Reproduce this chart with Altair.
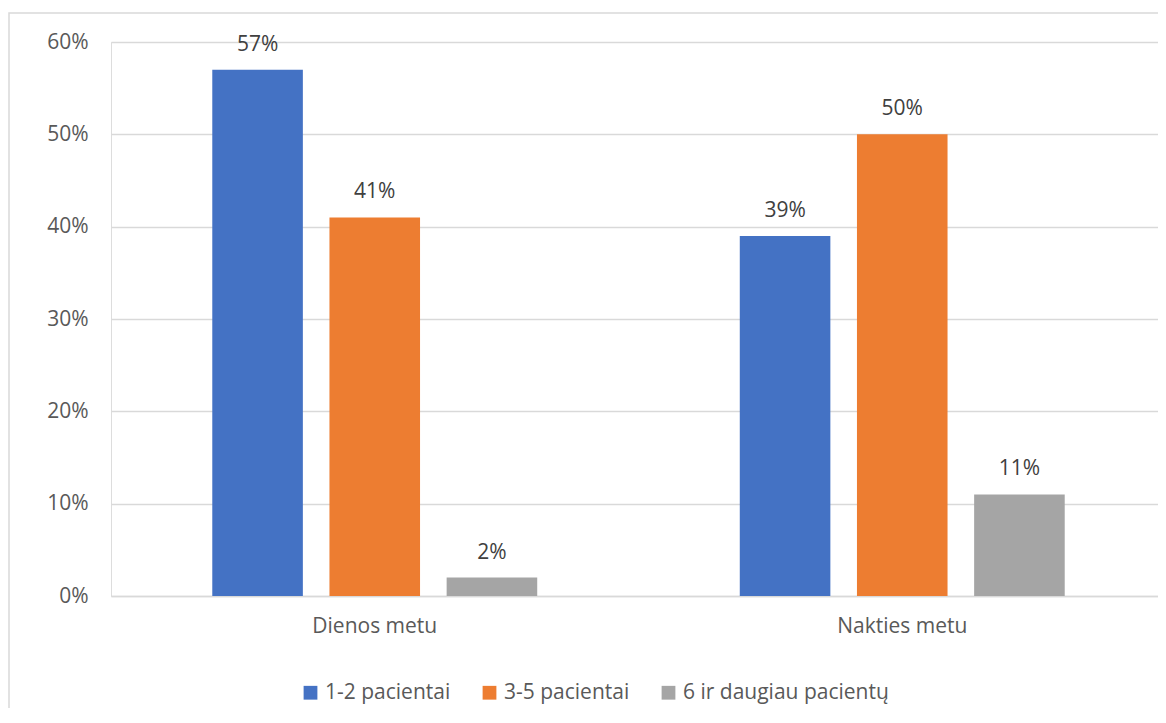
import altair as alt
import pandas as pd

categories = ["Dienos metu", "Nakties metu"]
series = ["1-2 pacientai", "3-5 pacientai", "6 ir daugiau pacientų"]
values_dienos = [0.57, 0.41, 0.02]
values_nakties = [0.39, 0.50, 0.11]
colors = ["#4472C4", "#ED7D31", "#A5A5A5"]
y_ticks = [0, 0.1, 0.2, 0.3, 0.4, 0.5, 0.6]

rows = []
for cat, vals in zip(categories, [values_dienos, values_nakties]):
    for s, v in zip(series, vals):
        rows.append({"Laikas": cat, "Grupė": s, "Dalis": v})
df = pd.DataFrame(rows)

FONT = "Open Sans"
TXT = "#595959"
FS = 21
W, H = 1047, 554
X_RANGE = 1055

x_enc = alt.X("Laikas:N", sort=categories, title=None,
              scale=alt.Scale(paddingInner=0.384, paddingOuter=0.192, range=[0, X_RANGE]),
              axis=alt.Axis(labelAngle=0, labelFontSize=FS, labelColor=TXT, labelFont=FONT,
                            labelPadding=19, ticks=False, domainColor="#d9d9d9", domainWidth=1.5,
                            grid=False))
xoff = alt.XOffset("Grupė:N", sort=series, scale=alt.Scale(paddingInner=0.227, paddingOuter=0))
y_enc = alt.Y("Dalis:Q", title=None,
              scale=alt.Scale(domain=[0, 0.6], nice=False),
              axis=alt.Axis(values=y_ticks, format=".0%", labelFontSize=FS, labelColor=TXT,
                            labelFont=FONT, labelPadding=23, ticks=False, domain=False,
                            gridColor="#d9d9d9", gridWidth=1.5))
color_enc = alt.Color("Grupė:N", sort=series, title=None,
                      scale=alt.Scale(domain=series, range=colors),
                      legend=alt.Legend(orient="none", direction="horizontal", legendX=189, legendY=640,
                                        symbolType="square", symbolSize=190, symbolStrokeWidth=0,
                                        labelFontSize=FS, labelColor=TXT, labelFont=FONT, labelLimit=500,
                                        labelOffset=4, columnPadding=28, padding=0))

base = alt.Chart(df)
bars = base.mark_bar().encode(x=x_enc, xOffset=xoff, y=y_enc, color=color_enc)
labels = base.mark_text(baseline="alphabetic", dy=-19, fontSize=FS, font=FONT, color="#404040").encode(
    x=alt.X("Laikas:N", sort=categories), xOffset=xoff, y="Dalis:Q",
    text=alt.Text("Dalis:Q", format=".0%"))

border = alt.Chart(pd.DataFrame({"a": [0]})).mark_rect(
    fill=None, stroke="#d9d9d9", strokeWidth=1.5).encode(
    x=alt.value(-102), x2=alt.value(1070), y=alt.value(-29), y2=alt.value(700))

chart = alt.layer(border, bars, labels).properties(
    width=W, height=H,
    autosize=alt.AutoSizeParams(type="none"),
    padding={"left": 103, "top": 34, "right": 0, "bottom": 112},
).configure_view(stroke=None).configure(background="white")

chart.save("out.html", embed_options={"renderer": "svg", "actions": False})
